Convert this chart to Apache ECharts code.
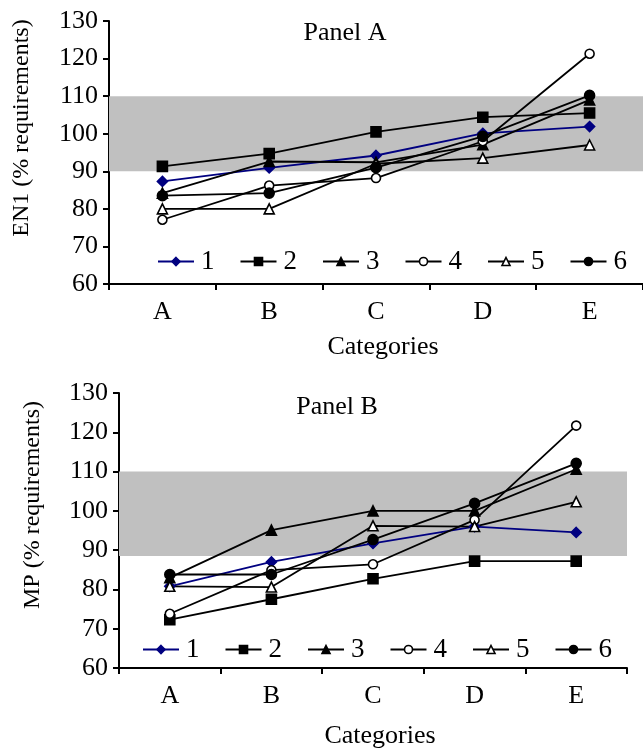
<!DOCTYPE html>
<html>
<head>
<meta charset="utf-8">
<script src="https://cdn.jsdelivr.net/npm/echarts@6/dist/echarts.min.js"></script>
<style>
html,body{margin:0;padding:0;background:#fff;}
#chart{width:643px;height:748px;}
</style>
</head>
<body>
<div id="chart"></div>
<script>
var categories = ['A', 'B', 'C', 'D', 'E'];
var seriesNames = ['1', '2', '3', '4', '5', '6'];
var yTicks = [60, 70, 80, 90, 100, 110, 120, 130];

// Panel A: EN1 (% requirements)
var panelA_1 = [87.3, 90.9, 94.2, 100.1, 101.9];
var panelA_2 = [91.3, 94.7, 100.5, 104.4, 105.5];
var panelA_3 = [84.2, 92.6, 92.4, 97.1, 109.0];
var panelA_4 = [77.1, 86.2, 88.2, 98.0, 121.3];
var panelA_5 = [80.0, 80.0, 92.0, 93.5, 97.0];
var panelA_6 = [83.5, 84.2, 91.0, 99.3, 110.2];
var bandA = [90, 110];

// Panel B: MP (% requirements)
var panelB_1 = [80.8, 87.0, 91.7, 96.0, 94.5];
var panelB_2 = [72.3, 77.5, 82.7, 87.2, 87.2];
var panelB_3 = [83.0, 95.1, 100.0, 100.0, 110.6];
var panelB_4 = [73.8, 84.9, 86.4, 97.7, 121.7];
var panelB_5 = [80.8, 80.6, 96.2, 96.0, 102.3];
var panelB_6 = [83.8, 83.8, 92.7, 101.9, 112.1];
var bandB = [88.5, 110];

var FONT = 'Liberation Serif';
var dataA = [panelA_1, panelA_2, panelA_3, panelA_4, panelA_5, panelA_6];
var dataB = [panelB_1, panelB_2, panelB_3, panelB_4, panelB_5, panelB_6];

var styles = [
  {symbol: 'diamond', size: 10, line: '#000080', fill: '#000080', border: '#000080'},
  {symbol: 'rect', size: 10, line: '#000', fill: '#000', border: '#000'},
  {symbol: 'triangle', size: 10, line: '#000', fill: '#000', border: '#000'},
  {symbol: 'circle', size: 9, line: '#000', fill: '#fff', border: '#000'},
  {symbol: 'triangle', size: 10, line: '#000', fill: '#fff', border: '#000'},
  {symbol: 'circle', size: 10, line: '#000', fill: '#000', border: '#000'}
];

function makeSeries(data, gridIdx, band) {
  var out = [];
  data.forEach(function (vals, i) {
    var st = styles[i];
    var s = {
      name: seriesNames[i],
      type: 'line',
      xAxisIndex: gridIdx,
      yAxisIndex: gridIdx,
      data: vals,
      symbol: st.symbol,
      symbolSize: st.size,
      showAllSymbol: true,
      z: 3,
      lineStyle: {color: st.line, width: 1.8},
      itemStyle: {color: st.fill, borderColor: st.border, borderWidth: 1.6},
      emphasis: {disabled: true},
      animation: false
    };
    if (i === 0) {
      s.markArea = {
        silent: true,
        itemStyle: {color: '#c0c0c0'},
        data: [[{yAxis: band[0]}, {yAxis: band[1]}]]
      };
    }
    out.push(s);
  });
  return out;
}

function yAxisDef(gridIdx) {
  return {
    type: 'value', gridIndex: gridIdx, min: yTicks[0], max: yTicks[yTicks.length - 1], interval: 10,
    axisLine: {show: true, lineStyle: {color: '#000', width: 2}},
    axisTick: {show: true, inside: false, length: 6, lineStyle: {color: '#000', width: 2}},
    axisLabel: {color: '#000', fontFamily: FONT, fontSize: 26, margin: 11},
    splitLine: {show: false}
  };
}
function xAxisDef(gridIdx) {
  return {
    type: 'category', gridIndex: gridIdx, data: categories, boundaryGap: true,
    axisLine: {show: true, lineStyle: {color: '#000', width: 2}},
    axisTick: {show: true, inside: false, length: 6, alignWithLabel: false, lineStyle: {color: '#000', width: 2}},
    axisLabel: {color: '#000', fontFamily: FONT, fontSize: 26, margin: 15},
    splitLine: {show: false}
  };
}
function legendDef(gridIdx, left, top) {
  return {
    data: seriesNames.map(function (n, i) {
      return {name: n, itemStyle: {color: styles[i].fill, borderColor: styles[i].border, borderWidth: 1.6}};
    }),
    left: left, top: top, orient: 'horizontal',
    itemWidth: 36, itemHeight: 10, itemGap: 25,
    selectedMode: false,
    textStyle: {color: '#000', fontFamily: FONT, fontSize: 27, padding: [0, 0, 0, 2]},
    padding: 0
  };
}

var chart = echarts.init(document.getElementById('chart'), null, {renderer: 'canvas'});
var TF = '26px "Liberation Serif"';
var option = {
  backgroundColor: '#fff',
  animation: false,
  grid: [
    {left: 109, top: 21, width: 534, height: 263},
    {left: 119, top: 393, width: 508, height: 275}
  ],
  xAxis: [xAxisDef(0), xAxisDef(1)],
  yAxis: [yAxisDef(0), yAxisDef(1)],
  legend: [
    legendDef(0, 157, 248),
    legendDef(1, 142, 636)
  ],
  series: makeSeries(dataA, 0, bandA).concat(makeSeries(dataB, 1, bandB)),
  graphic: [
    {type: 'text', x: 345, y: 33, style: {text: 'Panel A', font: TF, fill: '#000', align: 'center', verticalAlign: 'middle'}},
    {type: 'text', x: 337, y: 407, style: {text: 'Panel B', font: TF, fill: '#000', align: 'center', verticalAlign: 'middle'}},
    {type: 'text', x: 22, y: 128, rotation: Math.PI / 2, style: {text: 'EN1 (% requirements)', font: '24px "Liberation Serif"', fill: '#000', align: 'center', verticalAlign: 'middle'}},
    {type: 'text', x: 33, y: 505, rotation: Math.PI / 2, style: {text: 'MP (% requirements)', font: '24px "Liberation Serif"', fill: '#000', align: 'center', verticalAlign: 'middle'}},
    {type: 'text', x: 383, y: 347, style: {text: 'Categories', font: TF, fill: '#000', align: 'center', verticalAlign: 'middle'}},
    {type: 'text', x: 380, y: 736, style: {text: 'Categories', font: TF, fill: '#000', align: 'center', verticalAlign: 'middle'}}
  ]
};
chart.setOption(option);
</script>
</body>
</html>
